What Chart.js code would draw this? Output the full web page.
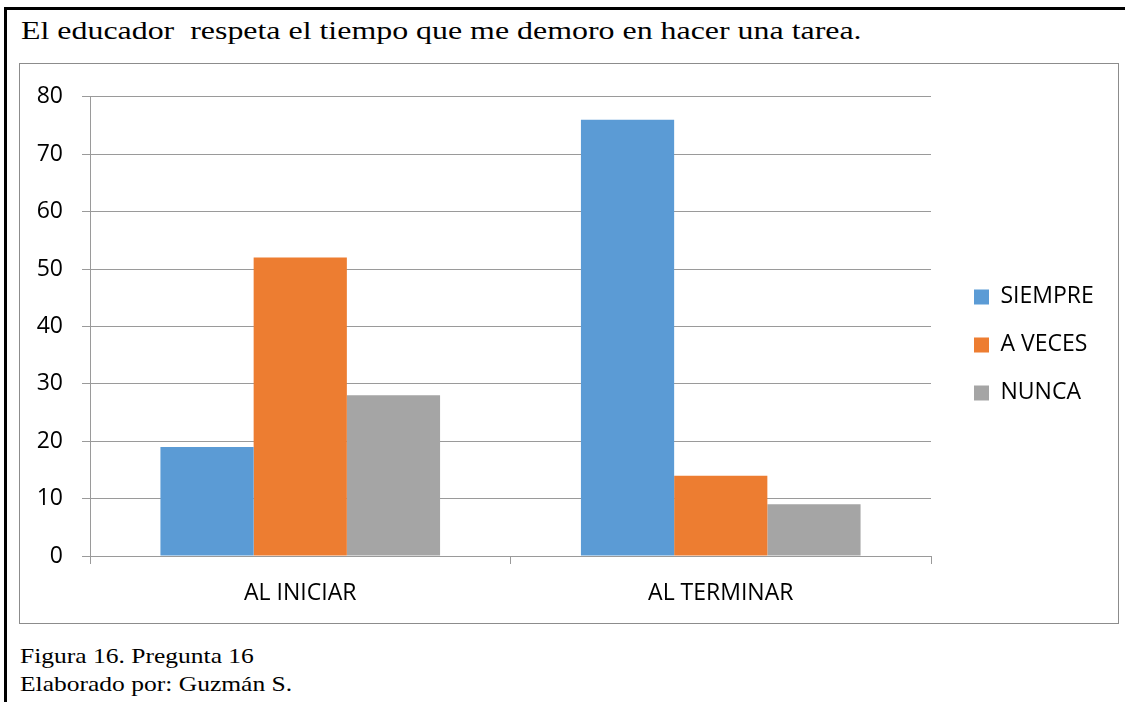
<!DOCTYPE html>
<html>
<head>
<meta charset="utf-8">
<script src="https://cdn.jsdelivr.net/npm/chart.js@4"></script>
<style>
  html, body { margin: 0; padding: 0; background: #fff; }
  body { width: 1129px; height: 702px; position: relative; overflow: hidden; }
  .frame {
    position: absolute; left: 4px; top: 7px; width: 1118px; height: 720px;
    border-top: 3px solid #000; border-left: 3px solid #000;
  }
  .serif {
    position: absolute; font-family: "Liberation Serif", "Times New Roman", serif; color: #000;
    line-height: 1; white-space: pre; transform-origin: 0 0;
  }
  .title { left: 21px; top: 18px; font-size: 26px; transform: scaleX(1.227); }
  .cap1 { left: 20px; top: 646px; font-size: 21px; transform: scaleX(1.215); }
  .cap2 { left: 20px; top: 674px; font-size: 21px; transform: scaleX(1.215); }
  .box {
    position: absolute; left: 20px; top: 64px; width: 1098px; height: 559px;
    outline: 1px solid #8c8c8c; overflow: visible;
  }
  .box canvas { position: absolute; left: 0; top: 0; }
</style>
</head>
<body>
<div class="frame"></div>
<div class="serif title">El educador  respeta el tiempo que me demoro en hacer una tarea.</div>
<div class="box"><canvas id="chart" width="1109" height="559"></canvas></div>
<div class="serif cap1">Figura 16. Pregunta 16</div>
<div class="serif cap2">Elaborado por: Guzmán S.</div>
<script>
const categories = ["AL INICIAR", "AL TERMINAR"];
const siempre = [19, 76];
const aVeces = [52, 14];
const nunca = [28, 9];
const seriesNames = ["SIEMPRE", "A VECES", "NUNCA"];
const colors = ["#5B9BD5", "#ED7D31", "#A5A5A5"];

const axisFont = { family: "'Open Sans', sans-serif", size: 23 };
const gridColor = "#9a9a9a";

const ctx = document.getElementById("chart");

new Chart(ctx, {
  type: "bar",
  data: {
    labels: categories,
    datasets: [siempre, aVeces, nunca].map((values, i) => ({
      label: seriesNames[i],
      data: values,
      backgroundColor: colors[i],
      borderWidth: 0,
      categoryPercentage: 0.665,
      barPercentage: 1,
    })),
  },
  options: {
    responsive: false,
    animation: false,
    layout: { padding: { top: 31, right: 30, bottom: 19, left: 0 } },
    plugins: {
      tooltip: { enabled: false },
      legend: {
        position: "right",
        align: "center",
        fullSize: false,
        maxWidth: 150,
        // empty title only pushes the items down a bit
        title: { display: true, text: "", font: { size: 10 }, padding: 12.5 },
        labels: {
          font: axisFont,
          color: "#000",
          boxWidth: 15,
          boxHeight: 15,
          padding: 25,
        },
      },
    },
    scales: {
      x: {
        grid: { offset: true, drawOnChartArea: false, drawTicks: true, tickLength: 8, color: gridColor },
        border: { color: gridColor },
        ticks: { font: axisFont, color: "#000", padding: 16, maxRotation: 0 },
        afterFit: (s) => { s.height = 48; },
      },
      y: {
        min: 0,
        max: 80,
        ticks: { stepSize: 10, font: axisFont, color: "#000", padding: 19 },
        grid: { color: gridColor, tickLength: 8 },
        border: { color: gridColor },
        afterFit: (s) => { s.width = 70; },
      },
      gap: {
        position: "right",
        display: true,
        grid: { display: false },
        border: { display: false },
        ticks: { display: false },
        afterFit: (s) => { s.width = 18; },
      },
    },
  },
});
</script>
</body>
</html>
